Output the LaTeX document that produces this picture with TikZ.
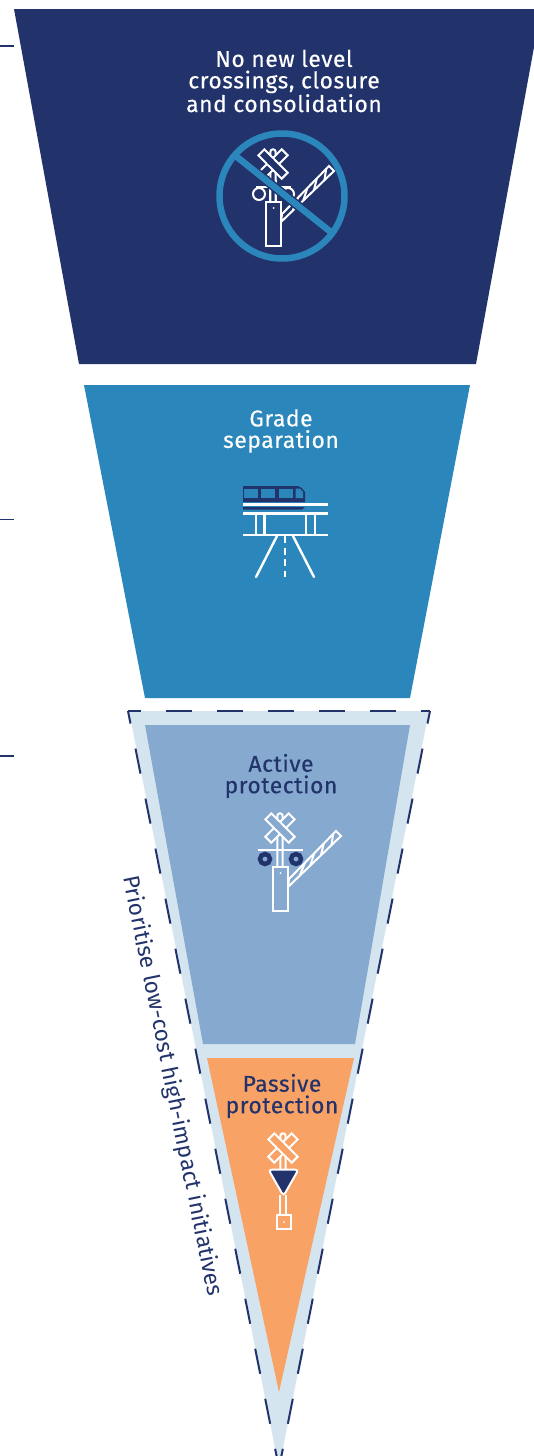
\documentclass[tikz,border=0pt]{standalone}
\usepackage{fontspec}
\setmainfont[LetterSpace=2.5,FakeBold=0.3]{Fira Sans}
\newfontfamily\rotfont[LetterSpace=0.5]{Fira Sans}
\usetikzlibrary{calc}
\definecolor{navy}{HTML}{22336B}
\definecolor{blue}{HTML}{2B87BB}
\definecolor{light}{HTML}{D4E5F0}
\definecolor{mid}{HTML}{85A9CF}
\definecolor{orange}{HTML}{F9A266}
\tikzset{
  icon/.style={draw=white,line width=2pt,line join=miter},
  title/.style={align=center,inner sep=0pt,font=\fontsize{22.8}{21.5}\selectfont},
  tick/.style={draw=navy,line width=1.8pt},
  dashline/.style={draw=navy,line width=2pt,dash pattern=on 25.5pt off 25.5pt,dash phase=12.7pt},
}
% cross sign at (#1,#2) on background #3
\newcommand{\crosssign}[3]{%
  \begin{scope}[shift={(#1,#2)}]
    \draw[icon] (-2.7,40) -- (-2.7,-12) arc[start angle=180,end angle=360,radius=2.7] -- (2.7,40);
    \begin{scope}[rotate=45]
      \draw[icon,fill=#3] (-16.5,-4.2) rectangle (16.5,4.2);
    \end{scope}
    \begin{scope}[rotate=-45]
      \draw[icon,fill=#3] (-16.5,-4.2) rectangle (16.5,4.2);
      \draw[draw=#3,line width=2.6pt] (-3.4,-3.2) -- (-3.4,3.2);
    \end{scope}
  \end{scope}}
% box, barrier and lights relative to the cross centre
\newcommand{\crossbarrier}[3]{%
  \begin{scope}[shift={(#1,#2)}]
    \coordinate (ua) at (9,51); \coordinate (ub) at (56,3);
    \coordinate (la) at (8,59); \coordinate (lb) at (61,8);
    \draw[icon] (ua) -- (ub) -- (lb) -- (la) -- cycle;
    \foreach \t/\u in {.22/.34,.42/.54,.62/.74,.82/.94}
      \draw[icon] ($(la)!\t!(lb)$) -- ($(ua)!\u!(ub)$);
    \draw[icon,fill=#3] (-7,39) rectangle (8,83);
    \fill[white] (0.5,45) circle (1);
  \end{scope}}
\begin{document}
\begin{tikzpicture}[x=1pt,y=-1pt]
\useasboundingbox (0,0) rectangle (534,1456);
\clip (0,0) rectangle (534,1456);
\fill[white] (0,0) rectangle (534,1456);
% ticks
\draw[tick] (0,46) -- (14,46);
\draw[tick] (0,519.5) -- (14,519.5);
\draw[tick] (0,756) -- (14,756);
% bands
\fill[navy] (14,9) -- (541,9) -- (476,364) -- (79,364) -- cycle;
\fill[blue] (84,385) -- (470,385) -- (410,698) -- (145,698) -- cycle;
\fill[light] (129,711) -- (429,711) -- (279,1468) -- cycle;
\draw[dashline] (128,711) -- (279,1468);
\draw[dashline] (430,711) -- (279,1468);
\draw[dashline] (128,711) -- (430,711);
\fill[mid] (145,725) -- (410,725) -- (355,1044) -- (203,1044) -- cycle;
\fill[orange] (207,1058) -- (354,1058) -- (279,1392) -- cycle;
% titles
\node[title,text=white] (t1) at (284,81) {No new level\\crossings, closure\\and consolidation};
\node[title,text=white] (t2) at (281,431) {Grade\\separation};
\node[title,text=navy] (t3) at (281,776) {Active\\protection};
\node[title,text=navy] (t4) at (282,1096) {Passive\\protection};
\node[inner sep=0pt,text=navy,rotate=-78.5,font=\rotfont\fontsize{22.6}{22}\selectfont] (t5) at (172,1086) {Prioritise low-cost high-impact initiatives};
% icon 1
\crosssign{273}{164}{navy}
\draw[icon] (256,187) -- (291,187);
\draw[icon,fill=navy] (259,194) circle (6);
\draw[icon,fill=navy] (288,194) circle (6);
\draw[icon] (270.3,180) -- (270.3,205);
\draw[icon] (275.7,180) -- (275.7,205);
\crossbarrier{273}{163}{navy}
\draw[navy,line width=9.5pt] (237,157) -- (332,233);
\draw[blue,line width=6.5pt] (237,157) -- (332,233);
\draw[blue,line width=6.5pt] (282,196) circle (62.5);
% icon 2
\fill[navy,rounded corners=3pt] (243,486) -- (300,486) [sharp corners] -- (305,492) -- (305,502) -- (243,502) -- cycle;
\fill[blue] (244,488.5) rectangle (257.5,498);
\fill[blue] (261,488.5) rectangle (275,498);
\fill[blue] (278.5,488.5) rectangle (293,498);
\fill[blue] (295.5,488.5) -- (300,488.5) -- (303,492) -- (303,498) -- (295.5,498) -- cycle;
\draw[white,line width=2.4pt] (243,504.5) -- (328,504.5);
\fill[navy] (243,507) -- (305,507) -- (302,509.5) -- (243,509.5) -- cycle;
\draw[white,line width=2.4pt] (243,513.5) -- (328,513.5);
\draw[white,line width=2.4pt] (243,535) -- (328,535);
\foreach \x in {256,264.5,306,315} \draw[white,line width=2.4pt] (\x,513.5) -- (\x,535);
\draw[white,line width=2.4pt,line cap=round] (277,536) -- (256,577);
\draw[white,line width=2.4pt,line cap=round] (293,536) -- (314,577);
\draw[white,line width=2.4pt,dash pattern=on 7pt off 4.5pt] (285,536) -- (285,577);
% icon 3
\crosssign{280}{828}{mid}
\draw[icon] (258,850) -- (303,850);
\draw[navy,line width=4.5pt,fill=mid] (265,859) circle (5);
\draw[navy,line width=4.5pt,fill=mid] (296,859) circle (5);
\crossbarrier{280}{828}{mid}
% icon 4
\crosssign{283}{1148}{orange}
\draw[icon,fill=navy,rounded corners=3.5pt] (268.5,1169.5) -- (298.5,1169.5) -- (283.5,1196) -- cycle;
\draw[icon] (280.3,1195) -- (280.3,1215);
\draw[icon] (286,1195) -- (286,1215);
\draw[icon] (277,1215) rectangle (291,1229);
\fill[white] (284,1222) circle (1);
\end{tikzpicture}
\end{document}
